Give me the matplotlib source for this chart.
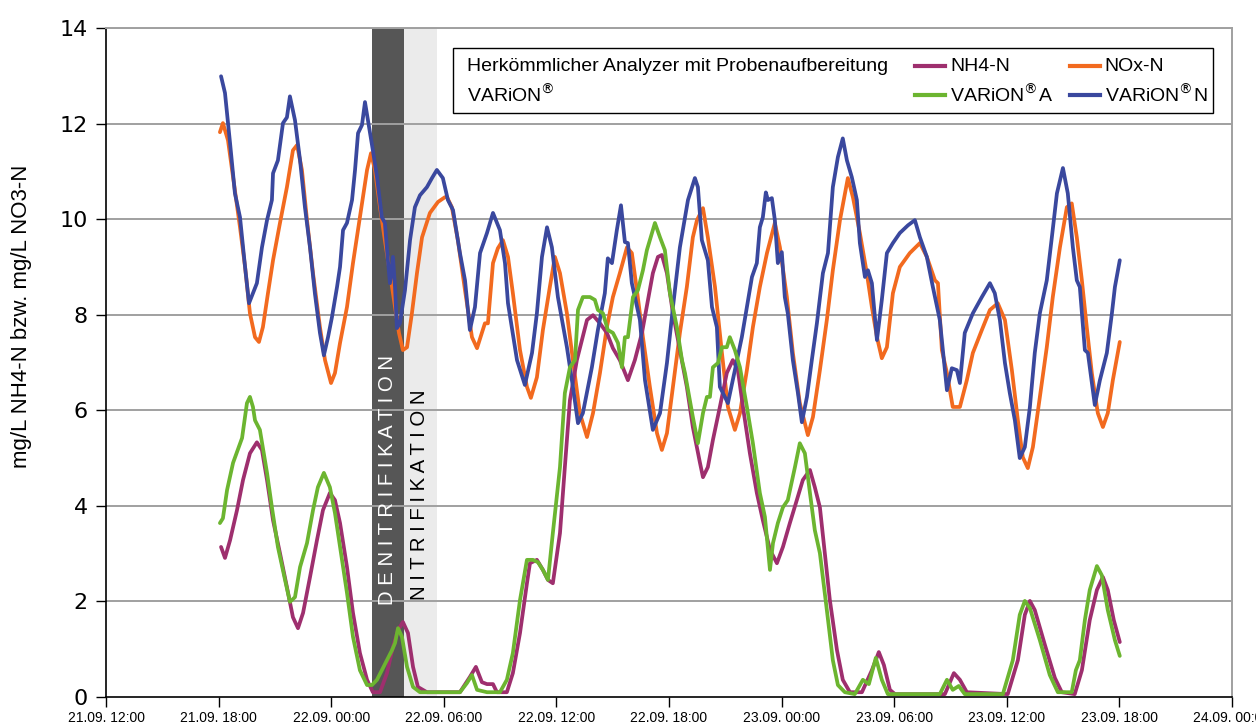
import matplotlib
matplotlib.use("Agg")
import matplotlib.pyplot as plt
from matplotlib.patches import Rectangle
from matplotlib.lines import Line2D

# Zeit in Stunden ab 21.09. 12:00
tick_labels = ['21.09. 12:00', '21.09. 18:00', '22.09. 00:00', '22.09. 06:00',
               '22.09. 12:00', '22.09. 18:00', '23.09. 00:00', '23.09. 06:00',
               '23.09. 12:00', '23.09. 18:00', '24.09. 00:00']
tick_hours = [0, 6, 12, 18, 24, 30, 36, 42, 48, 54, 60]

denitri = (14.17, 15.88)
nitri = (15.88, 17.63)

# VARiON N
t_vn = [6.13, 6.34, 6.61, 6.87, 7.14, 7.41, 7.62, 8.04, 8.31, 8.58, 8.84, 8.90, 9.16, 9.43, 9.64,
        9.80, 10.07, 10.34, 10.60, 10.87, 11.13, 11.40, 11.61, 11.83, 12.04, 12.31, 12.47, 12.63,
        12.84, 13.11, 13.27, 13.43, 13.64, 13.80, 13.96, 14.22, 14.44, 14.70, 14.86, 15.02, 15.13,
        15.29, 15.40, 15.50, 15.66, 15.93, 16.20, 16.46, 16.73, 17.10, 17.37, 17.63, 17.95, 18.22,
        18.49, 18.86, 19.13, 19.39, 19.66, 19.93, 20.30, 20.62, 20.99, 21.26, 21.42, 21.90, 22.32,
        22.70, 22.96, 23.23, 23.50, 23.76, 24.08, 24.56, 24.88, 25.15, 25.41, 25.89, 26.21, 26.58,
        26.74, 26.96, 27.22, 27.44, 27.65, 27.81, 28.02, 28.45, 28.72, 29.14, 29.52, 29.89, 30.21,
        30.58, 31.01, 31.38, 31.54, 31.75, 32.07, 32.29, 32.55, 32.71, 33.14, 33.51, 33.88, 34.15,
        34.42, 34.68, 34.84, 35.00, 35.16, 35.27, 35.48, 35.64, 35.80, 36.01, 36.17, 36.33, 36.60,
        36.87, 37.08, 37.35, 37.61, 37.88, 38.20, 38.47, 38.73, 39.00, 39.26, 39.48, 39.74, 40.01,
        40.17, 40.44, 40.60, 40.81, 41.08, 41.34, 41.61, 41.93, 42.30, 42.73, 43.10, 43.37, 43.74,
        44.06, 44.43, 44.81, 45.07, 45.34, 45.50, 45.76, 46.19, 46.67, 47.10, 47.36, 47.63, 47.90,
        48.16, 48.43, 48.69, 48.96, 49.23, 49.49, 49.76, 50.13, 50.40, 50.67, 50.99, 51.25, 51.52,
        51.73, 51.89, 52.16, 52.32, 52.69, 52.96, 53.33, 53.60, 53.76, 54.02]
v_vn = [12.99, 12.64, 11.59, 10.54, 10.04, 9.00, 8.24, 8.66, 9.41, 9.98, 10.40, 10.96, 11.23, 12.01,
        12.13, 12.57, 12.07, 11.23, 10.25, 9.41, 8.45, 7.62, 7.15, 7.53, 7.95, 8.58, 9.00, 9.77,
        9.92, 10.40, 11.03, 11.80, 11.97, 12.45, 12.07, 11.44, 10.88, 10.04, 9.92, 9.14, 8.66, 9.21,
        8.58, 7.72, 7.82, 8.51, 9.56, 10.25, 10.50, 10.67, 10.86, 11.03, 10.86, 10.40, 10.19, 9.29,
        8.72, 7.68, 8.16, 9.29, 9.71, 10.13, 9.77, 9.08, 8.24, 7.05, 6.53, 7.20, 8.03, 9.21, 9.83,
        9.41, 8.37, 7.32, 6.49, 5.73, 5.94, 6.90, 7.68, 8.45, 9.18, 9.08, 9.77, 10.29, 9.52, 9.50,
        8.66, 7.89, 6.63, 5.59, 5.94, 6.99, 8.16, 9.41, 10.40, 10.86, 10.67, 9.56, 9.14, 8.16, 7.74,
        6.49, 6.15, 6.84, 7.53, 8.16, 8.79, 9.08, 9.83, 10.04, 10.56, 10.40, 10.44, 9.98, 9.08, 9.31,
        8.37, 8.03, 7.05, 6.36, 5.75, 6.28, 7.05, 7.82, 8.87, 9.29, 10.67, 11.30, 11.69, 11.23, 10.88,
        10.40, 9.50, 8.79, 8.93, 8.66, 7.47, 8.31, 9.29, 9.50, 9.71, 9.87, 9.98, 9.62, 9.21, 8.58,
        7.89, 6.42, 6.88, 6.84, 6.57, 7.62, 8.03, 8.37, 8.66, 8.45, 7.89, 6.99, 6.36, 5.79, 5.00,
        5.23, 6.07, 7.20, 8.03, 8.72, 9.62, 10.54, 11.07, 10.54, 9.41, 8.72, 8.58, 7.26, 7.20, 6.11,
        6.63, 7.20, 8.03, 8.58, 9.14]

# NOx-N
t_nox = [6.07, 6.23, 6.50, 6.77, 7.14, 7.41, 7.67, 7.94, 8.15, 8.36, 8.63, 8.90, 9.27, 9.64, 9.96,
         10.18, 10.44, 10.71, 11.03, 11.40, 11.67, 11.99, 12.20, 12.47, 12.84, 13.16, 13.53, 13.91,
         14.12, 14.33, 14.60, 14.86, 15.13, 15.40, 15.61, 15.82, 16.04, 16.30, 16.57, 16.84, 17.26,
         17.69, 18.06, 18.17, 18.43, 18.75, 19.13, 19.50, 19.77, 20.03, 20.19, 20.35, 20.62, 20.88,
         21.15, 21.42, 21.68, 22.06, 22.43, 22.64, 22.96, 23.28, 23.65, 23.92, 24.19, 24.56, 24.88,
         25.25, 25.63, 25.95, 26.32, 26.69, 27.01, 27.38, 27.76, 28.02, 28.29, 28.61, 28.98, 29.36,
         29.62, 29.89, 30.21, 30.58, 30.95, 31.27, 31.49, 31.81, 32.07, 32.45, 32.82, 33.14, 33.51,
         33.78, 34.15, 34.47, 34.84, 35.22, 35.64, 35.91, 36.28, 36.60, 36.97, 37.40, 37.67, 38.04,
         38.41, 38.73, 39.11, 39.53, 39.80, 40.17, 40.54, 40.81, 41.08, 41.34, 41.61, 41.93, 42.30,
         42.83, 43.37, 43.74, 44.17, 44.33, 44.54, 44.81, 45.12, 45.50, 45.87, 46.19, 46.67, 47.10,
         47.52, 47.90, 48.27, 48.59, 48.85, 49.12, 49.39, 49.76, 50.13, 50.45, 50.83, 51.20, 51.46,
         51.73, 52.00, 52.26, 52.53, 52.85, 53.12, 53.38, 53.65, 54.02]
v_nox = [11.82, 12.01, 11.65, 10.88, 9.83, 9.00, 8.03, 7.53, 7.43, 7.74, 8.45, 9.14, 9.92, 10.67,
         11.44, 11.55, 11.03, 9.98, 8.87, 7.74, 7.05, 6.57, 6.78, 7.41, 8.16, 9.08, 10.04, 11.03,
         11.38, 11.03, 10.25, 9.56, 8.87, 8.16, 7.62, 7.26, 7.32, 8.03, 8.87, 9.62, 10.13, 10.36,
         10.46, 10.46, 10.25, 9.56, 8.51, 7.53, 7.30, 7.62, 7.82, 7.82, 9.08, 9.39, 9.56, 9.21, 8.45,
         7.26, 6.49, 6.26, 6.69, 7.68, 8.58, 9.21, 8.87, 8.03, 7.05, 5.94, 5.44, 5.94, 6.78, 7.74,
         8.37, 8.87, 9.41, 9.29, 8.51, 7.53, 6.49, 5.52, 5.17, 5.52, 6.49, 7.62, 8.58, 9.62, 9.98,
         10.23, 9.62, 8.58, 7.20, 6.07, 5.59, 5.94, 6.84, 7.74, 8.58, 9.29, 9.92, 9.41, 8.37, 7.20,
         6.15, 5.48, 5.86, 6.84, 7.89, 8.93, 9.98, 10.86, 10.46, 9.71, 8.87, 8.16, 7.53, 7.09, 7.32,
         8.45, 9.00, 9.29, 9.50, 9.21, 8.72, 8.66, 7.26, 6.78, 6.07, 6.07, 6.63, 7.20, 7.68, 8.10,
         8.24, 7.89, 6.84, 5.79, 5.02, 4.79, 5.23, 6.28, 7.32, 8.37, 9.41, 10.25, 10.33, 9.62, 8.72,
         7.74, 6.78, 5.94, 5.65, 5.94, 6.63, 7.43]

# VARiON A
t_va = [6.07, 6.23, 6.45, 6.77, 7.25, 7.51, 7.67, 7.83, 7.94, 8.20, 8.58, 8.84, 9.16, 9.54, 9.80,
        10.07, 10.34, 10.71, 11.03, 11.29, 11.61, 11.93, 12.20, 12.47, 12.84, 13.16, 13.53, 13.91,
        14.17, 14.44, 14.70, 14.97, 15.24, 15.40, 15.56, 15.77, 16.04, 16.36, 16.73, 17.42, 18.86,
        19.23, 19.50, 19.77, 20.30, 20.99, 21.36, 21.68, 22.06, 22.43, 22.75, 23.02, 23.28, 23.55,
        23.81, 24.19, 24.45, 24.72, 24.99, 25.15, 25.41, 25.79, 26.05, 26.21, 26.48, 26.74, 27.01,
        27.28, 27.49, 27.65, 27.81, 28.08, 28.34, 28.61, 28.82, 29.25, 29.52, 29.78, 30.05, 30.42,
        30.69, 30.85, 31.27, 31.54, 31.81, 32.02, 32.18, 32.34, 32.61, 32.82, 33.08, 33.24, 33.51,
        33.78, 34.15, 34.47, 34.84, 35.11, 35.38, 35.54, 35.80, 36.07, 36.33, 36.71, 36.97, 37.24,
        37.51, 37.77, 38.04, 38.41, 38.73, 39.00, 39.37, 39.90, 40.33, 40.65, 41.02, 41.34, 41.66,
        44.43, 44.81, 45.12, 45.44, 45.76, 47.79, 48.32, 48.69, 48.96, 49.23, 49.76, 50.29, 50.72,
        51.46, 51.68, 51.89, 52.16, 52.42, 52.80, 53.06, 53.38, 53.76, 54.02]
v_va = [3.64, 3.74, 4.33, 4.90, 5.42, 6.15, 6.28, 6.07, 5.79, 5.59, 4.69, 3.97, 3.14, 2.45, 1.99,
        2.09, 2.72, 3.22, 3.91, 4.39, 4.69, 4.39, 3.85, 3.14, 2.18, 1.26, 0.56, 0.25, 0.25, 0.36,
        0.56, 0.77, 0.98, 1.13, 1.44, 1.26, 0.63, 0.21, 0.10, 0.10, 0.10, 0.29, 0.46, 0.15, 0.10,
        0.10, 0.36, 0.92, 2.03, 2.87, 2.87, 2.82, 2.66, 2.45, 3.43, 4.81, 6.36, 6.90, 7.05, 8.10,
        8.37, 8.37, 8.31, 8.10, 8.03, 7.68, 7.62, 7.41, 6.90, 7.53, 7.53, 8.37, 8.51, 8.93, 9.35,
        9.92, 9.62, 9.35, 8.45, 7.74, 7.05, 6.78, 5.86, 5.31, 5.94, 6.28, 6.28, 6.90, 6.99, 7.32,
        7.32, 7.53, 7.26, 6.90, 6.07, 5.31, 4.27, 3.77, 2.66, 3.22, 3.64, 3.97, 4.12, 4.81, 5.31,
        5.10, 4.27, 3.49, 3.01, 1.82, 0.77, 0.25, 0.10, 0.06, 0.36, 0.27, 0.82, 0.36, 0.06, 0.06,
        0.36, 0.15, 0.23, 0.06, 0.06, 0.77, 1.72, 2.01, 1.86, 1.19, 0.46, 0.10, 0.10, 0.56, 0.77,
        1.61, 2.24, 2.74, 2.55, 1.82, 1.19, 0.86]

# NH4-N
t_nh4 = [6.13, 6.34, 6.61, 6.98, 7.30, 7.67, 8.04, 8.31, 8.58, 8.90, 9.27, 9.64, 9.96, 10.23, 10.50,
         10.87, 11.24, 11.56, 11.93, 12.20, 12.47, 12.84, 13.16, 13.53, 13.91, 14.22, 14.60, 14.97,
         15.29, 15.56, 15.82, 16.09, 16.36, 16.62, 17.10, 18.86, 19.39, 19.71, 20.03, 20.30, 20.62,
         20.83, 21.36, 21.68, 22.06, 22.43, 22.59, 22.96, 23.28, 23.55, 23.81, 24.19, 24.45, 24.72,
         25.09, 25.63, 25.95, 26.32, 26.69, 27.01, 27.38, 27.81, 28.18, 28.56, 28.88, 29.14, 29.41,
         29.62, 29.89, 30.21, 30.58, 30.95, 31.27, 31.65, 31.81, 32.07, 32.34, 32.71, 33.08, 33.40,
         33.67, 33.94, 34.31, 34.68, 35.00, 35.38, 35.75, 36.07, 36.44, 36.81, 37.13, 37.51, 37.77,
         38.04, 38.57, 38.95, 39.26, 39.64, 40.28, 40.81, 41.18, 41.45, 41.77, 42.04, 44.70, 45.18,
         45.50, 45.87, 48.05, 48.59, 48.96, 49.23, 49.49, 50.03, 50.56, 50.93, 51.62, 52.00, 52.42,
         52.80, 53.12, 53.38, 53.70, 54.02]
v_nh4 = [3.14, 2.91, 3.28, 3.91, 4.54, 5.10, 5.33, 5.17, 4.54, 3.70, 3.01, 2.30, 1.67, 1.44, 1.76,
         2.51, 3.28, 3.91, 4.27, 4.12, 3.64, 2.72, 1.76, 0.92, 0.36, 0.10, 0.10, 0.50, 1.05, 1.40,
         1.57, 1.34, 0.63, 0.21, 0.10, 0.10, 0.42, 0.63, 0.31, 0.27, 0.27, 0.10, 0.10, 0.50, 1.34,
         2.38, 2.80, 2.87, 2.66, 2.45, 2.38, 3.43, 4.81, 6.21, 7.05, 7.89, 7.99, 7.82, 7.62, 7.30,
         7.05, 6.63, 7.05, 7.62, 8.31, 8.87, 9.21, 9.25, 8.87, 8.03, 7.26, 6.49, 5.65, 4.90, 4.60,
         4.81, 5.38, 6.07, 6.78, 7.05, 6.84, 6.07, 5.10, 4.27, 3.70, 3.08, 2.80, 3.14, 3.64, 4.12,
         4.54, 4.75, 4.39, 3.97, 2.03, 0.98, 0.36, 0.10, 0.10, 0.56, 0.94, 0.67, 0.15, 0.06, 0.06,
         0.50, 0.36, 0.10, 0.06, 0.77, 1.72, 2.01, 1.82, 1.09, 0.40, 0.10, 0.06, 0.56, 1.61, 2.24,
         2.51, 2.24, 1.61, 1.15]

c_nh4 = '#9e2f6e'
c_nox = '#f26a1f'
c_va = '#6cb530'
c_vn = '#3a489e'

plt.rcParams['font.family'] = ['Liberation Sans', 'DejaVu Sans']

fig = plt.figure(figsize=(12.56, 7.24), dpi=100)
ax = fig.add_axes([0.0844, 0.0373, 0.8965, 0.924])

ax.axvspan(denitri[0], denitri[1], color='#565656', lw=0, zorder=0.1)
ax.axvspan(nitri[0], nitri[1], color='#ebebeb', lw=0, zorder=0.1)

for y in range(2, 15, 2):
    ax.axhline(y, color='#a0a0a0', lw=1.4, zorder=0.5)

lw = 2.7
style = dict(lw=lw, solid_joinstyle='round', solid_capstyle='round')
ax.plot(t_nox, v_nox, color=c_nox, zorder=3, **style)
ax.plot(t_vn, v_vn, color=c_vn, zorder=4, **style)
ax.plot(t_nh4, v_nh4, color=c_nh4, zorder=3, **style)
ax.plot(t_va, v_va, color=c_va, zorder=4, **style)

ax.text(sum(denitri) / 2, 1.92, ' '.join('DENITRIFIKATION'), rotation=90, color='white',
        ha='center', va='bottom', fontsize=14.7, zorder=2)
ax.text(sum(nitri) / 2 - 0.05, 2.03, ' '.join('NITRIFIKATION'), rotation=90, color='black',
        ha='center', va='bottom', fontsize=14.7, zorder=2)

ax.set_xlim(0, 60)
ax.set_ylim(0, 14)
ax.set_xticks(tick_hours)
ax.set_xticklabels(tick_labels, fontsize=10)
ax.set_yticks(range(0, 15, 2))
ax.set_yticklabels([str(v) for v in range(0, 15, 2)], fontsize=16, family='DejaVu Sans')
ax.tick_params(axis='both', direction='out', length=7, width=1)
ax.tick_params(axis='x', pad=3)
ax.tick_params(axis='y', pad=6)
ax.set_ylabel('mg/L NH4-N bzw. mg/L NO3-N', fontsize=16)
ax.yaxis.set_label_coords(-0.066, 0.569)

for s in ['top', 'right']:
    ax.spines[s].set_color('#a0a0a0')
    ax.spines[s].set_linewidth(1.4)
for s in ['left', 'bottom']:
    ax.spines[s].set_color('black')
    ax.spines[s].set_linewidth(1.2)

# Legende von Hand
box = Rectangle((0.308, 0.873), 0.675, 0.097, transform=ax.transAxes, facecolor='white',
                edgecolor='black', lw=1, zorder=5)
ax.add_patch(box)
fs = 14
ax.text(0.3206, 0.943, 'Herkömmlicher Analyzer mit Probenaufbereitung', transform=ax.transAxes,
        fontsize=fs, va='center', zorder=6)
ax.text(0.3206, 0.900, 'VARiON$^{\\circledR}$', transform=ax.transAxes, fontsize=fs, va='center', zorder=6)
entries = [(0.7185, 0.943, c_nh4, 'NH4-N'), (0.856, 0.943, c_nox, 'NOx-N'),
           (0.7185, 0.900, c_va, 'VARiON$^{\\circledR}$A'), (0.856, 0.900, c_vn, 'VARiON$^{\\circledR}$N')]
for x0, y0, c, lab in entries:
    ax.add_line(Line2D([x0, x0 + 0.027], [y0, y0], color=c, lw=3, transform=ax.transAxes, zorder=6))
    ax.text(x0 + 0.031, y0, lab, transform=ax.transAxes, fontsize=fs, va='center', zorder=6)

fig.savefig('out.png', dpi=100)
